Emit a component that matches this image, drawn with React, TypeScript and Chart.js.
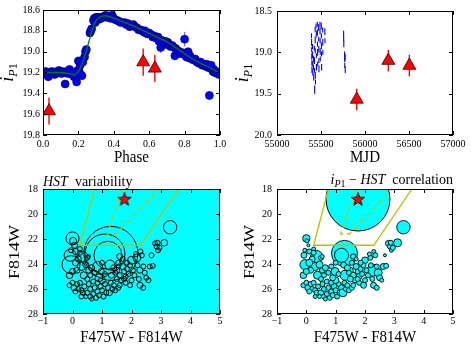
import React, { useEffect, useRef } from 'react';
import { Chart, registerables } from 'chart.js';
Chart.register(...registerables);

const SERIF = '"Liberation Serif", "DejaVu Serif", "Times New Roman", serif';
const CYAN = '#00ffff';
const OLIVE = '#bfbf00';

// ---------------- Panel 1: phase-folded light curve ----------------
const phaseValues = [
  0.005, 0.01, 0.015, 0.02, 0.025, 0.03, 0.04, 0.05, 0.06, 0.065,
  0.075, 0.08, 0.09, 0.095, 0.105, 0.11, 0.12, 0.125, 0.135, 0.14,
  0.15, 0.155, 0.165, 0.17, 0.175, 0.18, 0.19, 0.195, 0.2, 0.205,
  0.21, 0.215, 0.22, 0.225, 0.235, 0.24, 0.245, 0.265, 0.27, 0.275,
  0.285, 0.29, 0.295, 0.3, 0.31, 0.315, 0.325, 0.33, 0.345, 0.355,
  0.36, 0.37, 0.38, 0.39, 0.395, 0.405, 0.42, 0.43, 0.44, 0.46,
  0.47, 0.48, 0.49, 0.5, 0.51, 0.52, 0.53, 0.54, 0.55, 0.56,
  0.57, 0.575, 0.58, 0.59, 0.6, 0.615, 0.62, 0.63, 0.64, 0.65,
  0.655, 0.665, 0.67, 0.68, 0.69, 0.695, 0.705, 0.71, 0.72, 0.73,
  0.74, 0.745, 0.75, 0.76, 0.77, 0.78, 0.79, 0.8, 0.805, 0.81,
  0.82, 0.825, 0.83, 0.84, 0.85, 0.86, 0.87, 0.88, 0.89, 0.9,
  0.91, 0.92, 0.925, 0.93, 0.94, 0.945, 0.95, 0.96, 0.965, 0.97,
  0.98, 0.985, 0.99, 0.995,
];
const phaseMags = [
  19.20, 19.21, 19.19, 19.22, 19.20, 19.24, 19.21, 19.19, 19.20, 19.22,
  19.21, 19.19, 19.18, 19.20, 19.21, 19.19, 19.20, 19.31, 19.19, 19.21,
  19.17, 19.20, 19.22, 19.20, 19.24, 19.22, 19.29, 19.18, 19.09, 19.19,
  19.13, 19.09, 19.23, 19.10, 19.05, 19.00, 18.98, 18.82, 18.80, 18.78,
  18.70, 18.68, 18.72, 18.67, 18.67, 18.69, 18.67, 18.68, 18.66, 18.65,
  18.67, 18.66, 18.68, 18.65, 18.67, 18.69, 18.70, 18.71, 18.72, 18.72,
  18.74, 18.73, 18.76, 18.75, 18.74, 18.76, 18.77, 18.79, 18.79, 18.80,
  18.81, 18.80, 18.82, 18.83, 18.82, 18.84, 18.86, 18.85, 18.87, 18.86,
  18.90, 18.96, 18.89, 18.91, 18.90, 18.93, 18.91, 18.93, 18.95, 18.94,
  18.96, 19.04, 18.97, 18.99, 19.00, 19.02, 19.01, 18.88, 19.03, 19.05,
  19.00, 19.06, 19.04, 19.07, 19.08, 19.07, 19.10, 19.11, 19.10, 19.13,
  19.12, 19.14, 19.12, 19.15, 19.42, 19.16, 19.13, 19.19, 19.17, 19.20,
  19.19, 19.21, 19.20, 19.22,
];
const phaseErrors = [
  0.02, 0.02, 0.02, 0.02, 0.02, 0.04, 0.02, 0.02, 0.02, 0.02,
  0.02, 0.02, 0.02, 0.02, 0.02, 0.02, 0.02, 0.02, 0.02, 0.02,
  0.02, 0.02, 0.02, 0.02, 0.02, 0.02, 0.04, 0.02, 0.03, 0.02,
  0.02, 0.03, 0.03, 0.02, 0.02, 0.03, 0.02, 0.04, 0.04, 0.03,
  0.02, 0.02, 0.02, 0.02, 0.02, 0.02, 0.02, 0.02, 0.02, 0.02,
  0.02, 0.02, 0.02, 0.02, 0.02, 0.02, 0.02, 0.02, 0.02, 0.02,
  0.02, 0.02, 0.02, 0.02, 0.02, 0.02, 0.02, 0.02, 0.02, 0.02,
  0.02, 0.02, 0.02, 0.02, 0.02, 0.02, 0.02, 0.02, 0.02, 0.02,
  0.02, 0.05, 0.02, 0.02, 0.02, 0.02, 0.02, 0.02, 0.02, 0.02,
  0.02, 0.04, 0.02, 0.02, 0.02, 0.02, 0.02, 0.07, 0.02, 0.02,
  0.02, 0.02, 0.02, 0.02, 0.02, 0.02, 0.02, 0.02, 0.02, 0.02,
  0.02, 0.02, 0.02, 0.02, 0.04, 0.02, 0.02, 0.02, 0.02, 0.02,
  0.02, 0.02, 0.02, 0.02,
];
const modelPhase = [0, 0.05, 0.1, 0.15, 0.18, 0.2, 0.22, 0.24, 0.26, 0.28, 0.3, 0.32, 0.35, 0.38, 0.42, 0.46, 0.5, 0.55, 0.6, 0.65, 0.7, 0.75, 0.8, 0.85, 0.9, 0.95, 1.0];
const modelMag = [19.20, 19.20, 19.20, 19.21, 19.22, 19.19, 19.12, 19.02, 18.90, 18.78, 18.70, 18.67, 18.655, 18.665, 18.69, 18.72, 18.745, 18.785, 18.825, 18.865, 18.905, 18.96, 19.02, 19.075, 19.12, 19.16, 19.21];
const hstPhase = [0.034, 0.566, 0.632];
const hstMJD = [55906, 56265, 56504];
const hstMag = [19.57, 19.10, 19.16];
const hstErr = [0.13, 0.13, 0.13];

// ---------------- Panel 2: light curve vs MJD ----------------
const mjdValues = [
  55392, 55393, 55394, 55395, 55396, 55397, 55404, 55405, 55406, 55407,
  55414, 55415, 55417, 55424, 55425, 55426, 55428, 55433, 55434, 55435,
  55436, 55437, 55444, 55446, 55447, 55448, 55458, 55459, 55460, 55461,
  55462, 55473, 55474, 55475, 55476, 55477, 55488, 55489, 55490, 55491,
  55492, 55503, 55504, 55505, 55506, 55507, 55519, 55520, 55521, 55544,
  55545, 55757, 55758, 55759, 55768, 55769, 55770, 55774, 55775,
];
const mjdMags = [
  18.80, 18.88, 18.97, 19.05, 19.13, 19.21, 18.93, 19.03, 19.14, 19.24,
  19.08, 19.18, 19.30, 18.95, 19.10, 19.22, 19.45, 18.72, 18.85, 18.98,
  19.28, 19.36, 18.68, 18.78, 19.04, 19.18, 18.66, 18.76, 18.90, 19.00,
  19.14, 18.70, 18.84, 18.96, 19.10, 19.20, 18.66, 18.74, 18.86, 18.99,
  19.08, 18.68, 18.80, 18.92, 19.02, 19.18, 18.73, 18.88, 19.00, 18.75,
  18.86, 18.78, 18.84, 18.90, 19.02, 19.08, 19.16, 19.06, 19.21,
];
const mjdErrors = [
  0.03, 0.04, 0.03, 0.04, 0.03, 0.04, 0.03, 0.04, 0.03, 0.04,
  0.04, 0.03, 0.04, 0.03, 0.04, 0.03, 0.05, 0.03, 0.04, 0.03,
  0.04, 0.03, 0.03, 0.04, 0.03, 0.04, 0.03, 0.04, 0.03, 0.04,
  0.03, 0.04, 0.03, 0.04, 0.03, 0.04, 0.03, 0.04, 0.03, 0.04,
  0.03, 0.04, 0.03, 0.04, 0.03, 0.04, 0.03, 0.04, 0.03, 0.04,
  0.03, 0.04, 0.03, 0.04, 0.03, 0.04, 0.03, 0.04, 0.04,
];

// ---------------- Panels 3/4: CMD  [colour, F814W, radius(variability), radius(correlation)] ----------------
const cmdBright = [
  [1.30, 23.15, 27, 13], [1.10, 23.20, 20, 4], [1.20, 23.30, 14, 7], [-0.05, 24.05, 9, 5],
  [0.00, 21.95, 6.5, 3.7], [-0.08, 23.30, 6, 3], [0.35, 23.40, 5, 6], [3.31, 21.06, 6.7, 6.7],
  [0.85, 24.20, 5, 2.5], [1.27, 24.08, 5, 3], [2.18, 23.50, 4, 2.5], [2.00, 23.70, 4, 3.3],
  [2.28, 24.50, 3, 6], [0.02, 22.15, 3.5, 2],
];
const cmdBlueClump = [
  [0.07, 22.50, 3, 1.5], [0.30, 24.20, 4, 4], [-0.10, 24.90, 3.3, 3.3], [0.38, 24.90, 3.5, 4],
  [0.10, 23.00, 3, 2.5], [0.20, 23.60, 3, 3], [0.50, 23.50, 2.5, 2.5], [0.55, 24.50, 3, 3],
  [0.15, 24.50, 3, 3], [0.60, 24.90, 2.5, 2.5], [0.45, 24.05, 3, 3.5], [-0.05, 22.90, 2.5, 2],
  [0.25, 22.80, 2.5, 2], [0.00, 24.60, 3, 3], [0.65, 24.30, 3, 3], [0.75, 24.70, 2.5, 2.5],
  [0.54, 23.40, 2, 2], [0.50, 25.20, 2.5, 2.5], [0.10, 23.90, 3, 3.5], [0.25, 23.10, 2.5, 2.5],
];
const cmdFaintArc = [
  [-0.10, 25.70, 2.5, 2.5], [0.00, 25.50, 2.5, 2.5], [0.05, 25.90, 3, 3], [0.15, 25.60, 2.5, 2.5],
  [0.20, 26.00, 2.5, 2.5], [0.10, 26.20, 2.5, 2.5], [0.30, 26.10, 2.5, 2.5], [0.25, 25.50, 2.5, 2.5],
  [0.40, 25.80, 2.5, 2.5], [0.35, 26.30, 2.5, 2.5], [0.50, 26.30, 2.5, 3], [0.45, 26.60, 2, 2],
  [0.60, 26.00, 2.5, 2.5], [0.60, 26.60, 2.5, 2.5], [0.70, 26.40, 2.5, 2.5], [0.75, 25.90, 2.5, 2.5],
  [0.80, 26.70, 2.5, 2.5], [0.85, 26.20, 2.5, 2.5], [0.90, 26.50, 2.5, 2.5], [0.95, 25.80, 2.5, 3],
  [1.00, 26.10, 2.5, 2.5], [1.05, 26.60, 2.5, 2.5], [1.10, 25.60, 2.5, 2.5], [1.15, 26.30, 2.5, 3],
  [1.20, 25.90, 2.5, 3], [1.25, 26.30, 3, 4], [1.30, 25.50, 2.5, 2.5], [1.35, 26.00, 2.5, 2.5],
  [1.40, 25.70, 2.5, 2.5], [1.45, 26.10, 2.5, 2.5], [0.70, 25.40, 2.5, 2.5], [0.85, 25.50, 2.5, 2.5],
  [1.00, 25.30, 3.5, 3.3], [0.55, 25.60, 2.5, 2.5], [0.30, 26.60, 2.5, 2], [0.90, 25.10, 4, 3],
  [0.65, 26.80, 2, 2], [1.55, 25.90, 2.5, 2.5],
];
const cmdMiddle = [
  [1.60, 23.40, 3, 2.7], [0.98, 24.60, 3, 4], [1.32, 24.90, 3, 5], [1.50, 24.50, 3, 3],
  [1.60, 24.90, 2.5, 3], [1.70, 24.20, 3, 3], [1.75, 24.60, 2.5, 2.5], [1.80, 25.00, 2.5, 3],
  [1.85, 24.40, 2.5, 2.5], [1.90, 24.80, 2.5, 2.5], [1.95, 24.10, 2.5, 2.5], [2.05, 24.50, 2.5, 2.5],
  [2.10, 24.90, 2.5, 2.5], [2.15, 23.20, 2.5, 2], [1.65, 25.30, 2.5, 2.5], [1.80, 25.50, 2.5, 2.5],
  [1.50, 25.20, 2.5, 3], [1.10, 24.80, 2.5, 2.5], [1.40, 24.30, 3, 3], [1.55, 23.90, 2.5, 2.5],
  [1.70, 23.60, 2.5, 2], [1.85, 23.90, 2.5, 2.5], [2.00, 25.30, 2.5, 2.5], [1.95, 25.70, 2.5, 3],
  [2.25, 25.20, 2.5, 2.5], [1.60, 25.70, 2.5, 2.5], [1.00, 23.90, 2.5, 2.5], [1.45, 24.70, 2.5, 2.5],
  [1.75, 25.20, 2.5, 2.5], [2.20, 24.10, 2.5, 2.5],
];
const cmdRedBranch = [
  [2.45, 24.70, 2.5, 4], [2.50, 25.10, 2.5, 3], [2.62, 24.20, 2.5, 3], [2.72, 24.15, 2.5, 2.5],
  [2.40, 24.20, 2.5, 2.5], [2.57, 25.30, 2.5, 2], [2.30, 23.00, 2.5, 2], [2.35, 23.30, 2.5, 2.5],
  [2.68, 23.30, 2.5, 1.5], [2.80, 22.35, 2.5, 3], [2.85, 22.60, 2.5, 2.5], [2.88, 22.30, 2.5, 2.5],
  [2.90, 22.90, 2.5, 2], [3.11, 22.30, 3.3, 4], [2.95, 22.70, 2.5, 2.5], [2.29, 25.70, 3, 3],
  [2.40, 25.90, 2.5, 2.5],
];
const varStarColor = [1.76];
const varStarMag = [18.8];
const varStarCorrRadius = [32];
const boxColor = [0.75, 0.25, 2.3, 3.6];
const boxMag = [18, 22.5, 22.5, 18];
const innerColor = [1.7, 1.17, 1.47, 2.95];
const innerMag = [18, 21.6, 21.6, 18];

// ---------------- Tick labels ----------------
const phaseTicks = [0, 0.2, 0.4, 0.6, 0.8, 1.0];
const ip1Ticks1 = [18.6, 18.8, 19.0, 19.2, 19.4, 19.6, 19.8];
const mjdTicks = [55000, 55500, 56000, 56500, 57000];
const ip1Ticks2 = [18.5, 19.0, 19.5, 20.0];
const colorTicks = [-1, 0, 1, 2, 3, 4, 5];
const f814Ticks = [18, 20, 22, 24, 26, 28];

// ---------------- helpers ----------------
const pts = (xs: number[], ys: number[]) => xs.map((x, i) => ({ x, y: ys[i] }));
const allStars = () => [...cmdBright, ...cmdBlueClump, ...cmdFaintArc, ...cmdMiddle, ...cmdRedBranch];
const bubbles = (rIdx: number) => allStars().map((s) => ({ x: s[0], y: s[1], r: s[rIdx] }));
const minus = (v: number) => (v < 0 ? '\u2212' + Math.abs(v) : String(v));

type Seg = { t: string; font: string; dy?: number };
function segWidth(ctx: CanvasRenderingContext2D, segs: Seg[]) {
  let w = 0;
  for (const s of segs) { ctx.font = s.font; w += ctx.measureText(s.t).width; }
  return w;
}
function drawSegs(ctx: CanvasRenderingContext2D, segs: Seg[], x: number, y: number) {
  let cx = x;
  for (const s of segs) { ctx.font = s.font; ctx.fillText(s.t, cx, y + (s.dy || 0)); cx += ctx.measureText(s.t).width; }
}
function xTitle(ctx: CanvasRenderingContext2D, text: string, cx: number, cy: number) {
  ctx.save(); ctx.translate(cx, cy); ctx.scale(1, 1.15);
  ctx.font = `15px ${SERIF}`; ctx.fillStyle = '#000'; ctx.textAlign = 'center'; ctx.textBaseline = 'middle';
  ctx.fillText(text, 0, 0); ctx.restore();
}
function yTitleF(ctx: CanvasRenderingContext2D, cx: number, cy: number) {
  ctx.save(); ctx.translate(cx, cy); ctx.rotate(-Math.PI / 2); ctx.scale(1.2, 1);
  ctx.font = `15px ${SERIF}`; ctx.fillStyle = '#000'; ctx.textAlign = 'center'; ctx.textBaseline = 'middle';
  ctx.fillText('F814W', 0, 0); ctx.restore();
}
function yTitleI(ctx: CanvasRenderingContext2D, cx: number, cy: number) {
  ctx.save(); ctx.translate(cx, cy); ctx.rotate(-Math.PI / 2);
  ctx.fillStyle = '#000'; ctx.textAlign = 'left'; ctx.textBaseline = 'alphabetic';
  const segs: Seg[] = [
    { t: 'i', font: `italic 18px ${SERIF}` },
    { t: 'P', font: `italic 12px ${SERIF}`, dy: 3.5 },
    { t: '1', font: `12px ${SERIF}`, dy: 3.5 },
  ];
  drawSegs(ctx, segs, -segWidth(ctx, segs) / 2, 0);
  ctx.restore();
}

let starImg: HTMLCanvasElement | null = null;
function getStar() {
  if (starImg) return starImg;
  const c = document.createElement('canvas');
  c.width = 18; c.height = 18;
  const g = c.getContext('2d')!;
  g.beginPath();
  for (let i = 0; i < 10; i++) {
    const r = i % 2 === 0 ? 7.2 : 2.9;
    const a = -Math.PI / 2 + (i * Math.PI) / 5;
    const px = 9 + r * Math.cos(a), py = 9.5 + r * Math.sin(a);
    if (i === 0) g.moveTo(px, py); else g.lineTo(px, py);
  }
  g.closePath(); g.fillStyle = '#ff0000'; g.fill(); g.lineWidth = 0.8; g.strokeStyle = '#000'; g.stroke();
  starImg = c;
  return c;
}

function decor(bg: string | null, extra: (ctx: CanvasRenderingContext2D) => void) {
  return {
    id: 'decor',
    beforeDraw(chart: any) {
      if (!bg) return;
      const { ctx, chartArea: a } = chart;
      ctx.save(); ctx.fillStyle = bg; ctx.fillRect(a.left, a.top, a.right - a.left, a.bottom - a.top); ctx.restore();
    },
    beforeDatasetsDraw(chart: any) {
      const { ctx, chartArea: a } = chart;
      ctx.save();
      ctx.beginPath(); ctx.rect(a.left, a.top, a.right - a.left, a.bottom - a.top); ctx.clip();
      chart.data.datasets.forEach((ds: any, i: number) => {
        if (!ds.errors) return;
        const meta = chart.getDatasetMeta(i);
        const ys = chart.scales[meta.yAxisID];
        ctx.strokeStyle = ds.errColor; ctx.lineWidth = ds.errWidth;
        ds.data.forEach((p: any, j: number) => {
          const el = meta.data[j]; if (!el) return;
          ctx.beginPath();
          ctx.moveTo(el.x, ys.getPixelForValue(p.y - ds.errors[j]));
          ctx.lineTo(el.x, ys.getPixelForValue(p.y + ds.errors[j]));
          ctx.stroke();
        });
      });
      ctx.restore();
    },
    afterDraw(chart: any) {
      const { ctx, chartArea: a, scales } = chart;
      ctx.save();
      ctx.strokeStyle = '#000'; ctx.lineWidth = 1;
      ctx.beginPath();
      scales.x.ticks.forEach((t: any) => {
        const p = Math.round(scales.x.getPixelForValue(t.value)) + 0.5;
        ctx.moveTo(p, a.bottom); ctx.lineTo(p, a.bottom - 4);
        ctx.moveTo(p, a.top); ctx.lineTo(p, a.top + 4);
      });
      scales.y.ticks.forEach((t: any) => {
        const p = Math.round(scales.y.getPixelForValue(t.value)) + 0.5;
        ctx.moveTo(a.left, p); ctx.lineTo(a.left + 4, p);
        ctx.moveTo(a.right, p); ctx.lineTo(a.right - 4, p);
      });
      ctx.stroke();
      ctx.strokeRect(a.left + 0.5, a.top + 0.5, a.right - a.left - 1, a.bottom - a.top - 1);
      ctx.fillStyle = '#000';
      extra(ctx);
      ctx.restore();
    },
  };
}

function axis(pos: 'bottom' | 'left', min: number, max: number, ticks: number[], fmt: (v: number) => string, size: number, pad: number, reverse = false) {
  return {
    type: 'linear', position: pos, min, max, reverse,
    grid: { display: false, drawTicks: false },
    border: { display: false },
    title: { display: false },
    ticks: { padding: pad, color: '#000', font: { family: SERIF, size: 10 }, callback: (v: any) => fmt(Number(v)), maxRotation: 0, minRotation: 0, autoSkip: false },
    afterBuildTicks: (s: any) => { s.ticks = ticks.map((v) => ({ value: v })); },
    afterFit: (s: any) => { if (pos === 'bottom') s.height = size; else s.width = size; },
  };
}

function baseOptions(W: number, H: number, area: { l: number; t: number; r: number; b: number }, x: any, y: any) {
  return {
    responsive: false, animation: false, events: [],
    layout: { autoPadding: false, padding: { left: 0, top: area.t, right: W - area.r, bottom: 0 } },
    plugins: { legend: { display: false }, tooltip: { enabled: false } },
    scales: { x, y },
  };
}

function config1(): any {
  const W = 235, H = 175, area = { l: 43, t: 10, r: 220, b: 135 };
  return {
    type: 'scatter',
    data: {
      datasets: [
        { data: pts(modelPhase, modelMag), showLine: true, borderColor: '#008000', borderWidth: 1.3, pointRadius: 0, cubicInterpolationMode: 'monotone', order: 0 },
        { data: pts(hstPhase, hstMag), pointStyle: 'triangle', pointRadius: 7.5, backgroundColor: '#ff0000', borderColor: '#400000', borderWidth: 0.8, errors: hstErr, errColor: '#ff0000', errWidth: 1.4, order: 1 },
        { data: pts(phaseValues, phaseMags), pointRadius: 4, backgroundColor: '#0000ff', borderColor: '#000040', borderWidth: 0.6, errors: phaseErrors, errColor: 'rgba(50,50,255,0.65)', errWidth: 1.4, order: 2 },
      ],
    },
    options: baseOptions(W, H, area,
      axis('bottom', 0, 1, phaseTicks, (v) => v.toFixed(1), H - area.b, 3),
      axis('left', 18.6, 19.8, ip1Ticks1, (v) => v.toFixed(1), area.l, 3, true)),
    plugins: [decor(null, (ctx) => { xTitle(ctx, 'Phase', 131.5, 157.5); yTitleI(ctx, 13, 72.5); })],
  };
}

function config2(): any {
  const W = 236, H = 175, area = { l: 42, t: 11, r: 218, b: 135 };
  return {
    type: 'scatter',
    data: {
      datasets: [
        { data: pts(hstMJD, hstMag), pointStyle: 'triangle', pointRadius: 7.5, backgroundColor: '#ff0000', borderColor: '#400000', borderWidth: 0.8, errors: hstErr, errColor: '#ff0000', errWidth: 1.4, order: 0 },
        { data: pts(mjdValues, mjdMags), pointRadius: 0, errors: mjdErrors, errColor: '#0000ff', errWidth: 1.1, order: 1 },
      ],
    },
    options: baseOptions(W, H, area,
      axis('bottom', 55000, 57000, mjdTicks, (v) => String(Math.round(v)), H - area.b, 3),
      axis('left', 18.5, 20.0, ip1Ticks2, (v) => v.toFixed(1), area.l, 5, true)),
    plugins: [decor(null, (ctx) => { xTitle(ctx, 'MJD', 130, 157.5); yTitleI(ctx, 13, 73); })],
  };
}

function polygonSets() {
  return [
    { data: pts(boxColor, boxMag), showLine: true, borderColor: OLIVE, borderWidth: 1.3, pointRadius: 0, order: 1 },
    { data: pts(innerColor, innerMag), showLine: true, borderColor: OLIVE, borderWidth: 1.3, borderDash: [5, 4], pointRadius: 0, order: 1 },
  ];
}

// bottom panels: canvas starts at y=163 (so titles above the axes are never cut)
const BT = 163;

function config3(): any {
  const W = 235, H = 351 - BT, area = { l: 43, t: 189 - BT, r: 220, b: 314 - BT };
  return {
    type: 'scatter',
    data: {
      datasets: [
        { data: pts(varStarColor, varStarMag), pointStyle: getStar(), pointRadius: 7, order: 0 },
        ...polygonSets(),
        { type: 'bubble', data: bubbles(2), backgroundColor: 'rgba(0,0,0,0)', borderColor: '#000', borderWidth: 1, clip: 0, order: 2 },
      ],
    },
    options: baseOptions(W, H, area,
      axis('bottom', -1, 5, colorTicks, minus, H - area.b, 1.5),
      axis('left', 18, 28, f814Ticks, (v) => String(v), area.l, 5, true)),
    plugins: [decor(CYAN, (ctx) => {
      xTitle(ctx, 'F475W - F814W', 131.5, 337.5 - BT);
      yTitleF(ctx, 15, 252 - BT);
      ctx.textAlign = 'left'; ctx.textBaseline = 'alphabetic';
      drawSegs(ctx, [{ t: 'HST', font: `italic 14px ${SERIF}` }, { t: '  variability', font: `14px ${SERIF}` }], 43, 185.5 - BT);
    })],
  };
}

function config4(): any {
  const W = 236, H = 351 - BT, area = { l: 42, t: 189 - BT, r: 218, b: 314 - BT };
  return {
    type: 'scatter',
    data: {
      datasets: [
        { data: pts(varStarColor, varStarMag), pointStyle: getStar(), pointRadius: 7, order: 0 },
        ...polygonSets(),
        { type: 'bubble', data: bubbles(3), backgroundColor: CYAN, borderColor: '#000', borderWidth: 0.9, clip: 0, order: 2 },
        { type: 'bubble', data: varStarColor.map((x, i) => ({ x, y: varStarMag[i], r: varStarCorrRadius[i] })), backgroundColor: CYAN, borderColor: '#000', borderWidth: 1, clip: 0, order: 3 },
      ],
    },
    options: baseOptions(W, H, area,
      axis('bottom', -1, 5, colorTicks, minus, H - area.b, 1.5),
      axis('left', 18, 28, f814Ticks, (v) => String(v), area.l, 5, true)),
    plugins: [decor(null, (ctx) => {
      xTitle(ctx, 'F475W - F814W', 130, 337.5 - BT);
      yTitleF(ctx, 15, 252 - BT);
      ctx.textAlign = 'left'; ctx.textBaseline = 'alphabetic';
      const segs: Seg[] = [
        { t: 'i', font: `italic 14px ${SERIF}` },
        { t: 'P', font: `italic 10px ${SERIF}`, dy: 3 },
        { t: '1', font: `10px ${SERIF}`, dy: 3 },
        { t: ' \u2212 ', font: `14px ${SERIF}` },
        { t: 'HST', font: `italic 14px ${SERIF}` },
        { t: '  correlation', font: `14px ${SERIF}` },
      ];
      drawSegs(ctx, segs, 218 - segWidth(ctx, segs), 184 - BT);
    })],
  };
}

function Panel({ left, top, width, height, build }: { left: number; top: number; width: number; height: number; build: () => any }) {
  const ref = useRef<HTMLCanvasElement>(null);
  useEffect(() => {
    const chart = new Chart(ref.current as HTMLCanvasElement, build());
    return () => chart.destroy();
  }, []);
  return (
    <div style={{ position: 'absolute', left, top, width, height }}>
      <canvas ref={ref} width={width} height={height} style={{ display: 'block', width, height }} />
    </div>
  );
}

export default function App() {
  return (
    <div style={{ position: 'fixed', left: 0, top: 0, width: 471, height: 351, background: '#fff', overflow: 'hidden' }}>
      <Panel left={0} top={0} width={235} height={175} build={config1} />
      <Panel left={235} top={0} width={236} height={175} build={config2} />
      <Panel left={0} top={BT} width={235} height={351 - BT} build={config3} />
      <Panel left={235} top={BT} width={236} height={351 - BT} build={config4} />
    </div>
  );
}
